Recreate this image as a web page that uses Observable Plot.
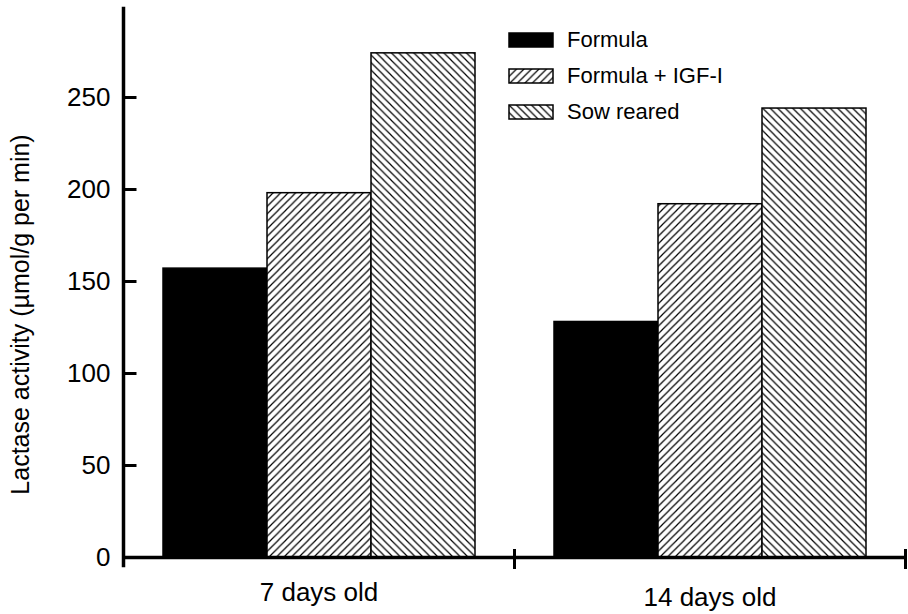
<!DOCTYPE html>
<html>
<head>
<meta charset="utf-8">
<script src="https://cdn.jsdelivr.net/npm/d3@7"></script>
<script src="https://cdn.jsdelivr.net/npm/@observablehq/plot@0.6"></script>
<style>
  html, body { margin: 0; padding: 0; background: #fff; }
  #chart { position: relative; width: 908px; height: 614px; font-family: "Liberation Sans", Arial, sans-serif; }
  #chart svg text { font-family: "Liberation Sans", Arial, sans-serif; }
  #legend { position: absolute; left: 509px; top: 22px; }
  .lg-swatches { font-family: "Liberation Sans", Arial, sans-serif; font-size: 22px; color: #000; margin: 0; }
  .lg-swatch { height: 36px; padding-bottom: 0; }
  .lg-swatch > svg { margin-right: 14px; }
  .lg-swatch rect { stroke: #000; stroke-width: 1.5; }
</style>
</head>
<body>
<div id="chart"><div id="legend"></div></div>
<script>
// Lactase activity by age group and rearing treatment
const groups = ["7 days old", "14 days old"];
const treatments = ["Formula", "Formula + IGF-I", "Sow reared"];
const formula = [157, 128];
const formulaIgf = [198, 192];
const sowReared = [274, 244];
const yTicks = [0, 50, 100, 150, 200, 250];
const yTitle = "Lactase activity (\u00b5mol/g per min)";

const fills = ["#000", "url(#hatch-fwd)", "url(#hatch-back)"];

const rows = groups.flatMap((g, i) => [
  {group: g, treatment: treatments[0], value: formula[i]},
  {group: g, treatment: treatments[1], value: formulaIgf[i]},
  {group: g, treatment: treatments[2], value: sowReared[i]}
]);

const W = 908, H = 614, mTop = 5, mBottom = 57, mLeft = 122, mRight = 3;
const innerH = H - mTop - mBottom;
const facetW = (W - mLeft - mRight) / groups.length;
const tickLen = 14;

const plot = Plot.plot({
  width: W,
  height: H,
  marginTop: mTop,
  marginBottom: mBottom,
  marginLeft: mLeft,
  marginRight: mRight,
  style: {background: "#fff", color: "#000"},
  fx: {domain: groups, padding: 0, axis: null},
  x: {domain: treatments, paddingInner: 0, paddingOuter: 0.373, axis: null},
  y: {domain: [0, 300]},
  color: {domain: treatments, range: fills},
  marks: [
    Plot.barY(rows, {fx: "group", x: "treatment", y: "value", fill: "treatment", stroke: "#000", strokeWidth: 1.5}),
    Plot.ruleY([0], {strokeWidth: 3.5}),
    // y axis line, slightly overshooting the baseline
    Plot.frame({anchor: "left", facetAnchor: "left", insetTop: 3, insetBottom: -8, strokeWidth: 3.5}),
    // short ticks crossing the baseline at the end of each age group
    Plot.frame({anchor: "right", insetTop: innerH - 7, insetBottom: -10, strokeWidth: 3}),
    // inward-pointing y ticks
    Plot.tickY(yTicks, {y: d => d, facetAnchor: "left", insetRight: facetW - tickLen, strokeWidth: 3}),
    Plot.axisY({ticks: yTicks, tickSize: 0, tickPadding: 13, fontSize: 26, label: null}),
    Plot.text([yTitle], {text: d => d, frameAnchor: "left", facetAnchor: "left", rotate: -90, textAnchor: "middle", lineAnchor: "top", dx: -112, dy: 33, fontSize: 25}),
    Plot.text([groups[0]], {fx: d => d, text: d => d, frameAnchor: "bottom", lineAnchor: "top", dy: 25, fontSize: 26}),
    Plot.text([groups[1]], {fx: d => d, text: d => d, frameAnchor: "bottom", lineAnchor: "top", dy: 30, fontSize: 26})
  ]
});

// Hatch patterns for the two patterned treatments
const defs = d3.select(plot).insert("defs", ":first-child");
function hatch(id, d) {
  const p = defs.append("pattern")
    .attr("id", id)
    .attr("patternUnits", "userSpaceOnUse")
    .attr("width", 7.5)
    .attr("height", 7.5);
  p.append("rect").attr("width", 7.5).attr("height", 7.5).attr("fill", "#fff");
  p.append("path").attr("d", d).attr("stroke", "#000").attr("stroke-width", 1.2).attr("fill", "none");
}
hatch("hatch-fwd", "M-1,1 l2,-2 M0,7.5 l7.5,-7.5 M6.5,8.5 l2,-2");
hatch("hatch-back", "M-1,6.5 l2,2 M0,0 l7.5,7.5 M6.5,-1 l2,2");

document.getElementById("chart").prepend(plot);

const legend = Plot.legend({
  color: {domain: treatments, range: fills},
  legend: "swatches",
  columns: 1,
  swatchWidth: 44,
  swatchHeight: 14,
  className: "lg"
});
document.getElementById("legend").appendChild(legend);
</script>
</body>
</html>
